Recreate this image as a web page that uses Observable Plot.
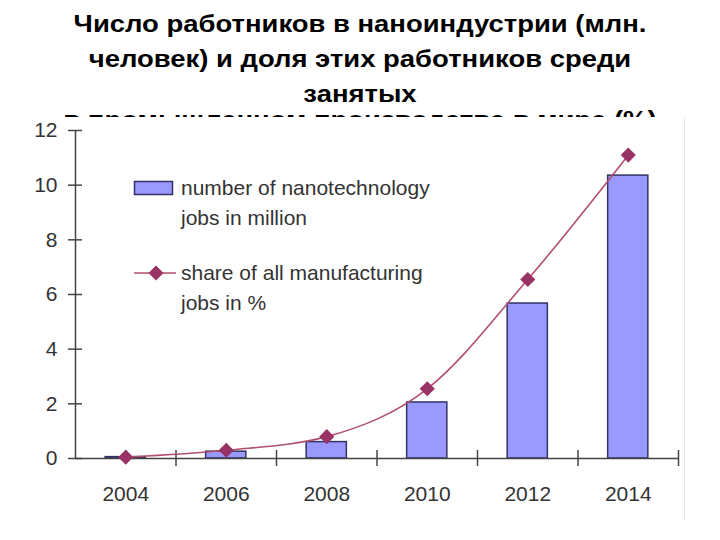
<!DOCTYPE html>
<html><head><meta charset="utf-8">
<script src="https://cdn.jsdelivr.net/npm/d3@7"></script>
<script src="https://cdn.jsdelivr.net/npm/@observablehq/plot@0.6"></script>
<style>
html,body{margin:0;padding:0;background:#fff;width:720px;height:540px;overflow:hidden;position:relative;font-family:"Liberation Sans",Arial,sans-serif;}
.title{position:absolute;left:0;width:720px;text-align:center;font-weight:bold;font-size:24.5px;line-height:22px;color:#000;transform:scaleX(1.12);transform-origin:360px 0;white-space:nowrap;}
#chart{position:absolute;left:0;top:117px;width:684px;height:403px;background:#fff;border-right:1px solid #e4e4e4;}
#legend{position:absolute;left:0;top:0;width:684px;height:403px;pointer-events:none;font-size:21px;color:#333;}
.lt{position:absolute;left:181px;line-height:30px;white-space:nowrap;}
</style></head>
<body>
<div class="title" style="top:12.5px">Число работников в наноиндустрии (млн.</div>
<div class="title" style="top:47.5px">человек) и доля этих работников среди</div>
<div class="title" style="top:82.5px">занятых</div>
<div class="title" style="top:109px">в промышленном производстве в мире (%)</div>
<div id="chart"></div>
<script>
const years = [2004, 2006, 2008, 2010, 2012, 2014];
const jobs = [0.05, 0.25, 0.6, 2.05, 5.67, 10.35];
const share = [0.05, 0.3, 0.8, 2.55, 6.55, 11.1];
const yTicks = [0, 2, 4, 6, 8, 10, 12];
const boundaries = [2005, 2007, 2009, 2011, 2013, 2015];
const seriesNames = ["number of nanotechnology", "jobs in million", "share of all manufacturing", "jobs in %"];

const data = years.map((y, i) => ({year: y, jobs: jobs[i], share: share[i]}));
const axisColor = "#444";
const barFill = "#9999ff", barStroke = "#333366";
const lineColor = "#b0506e", dotColor = "#993366";

const plot = Plot.plot({
  width: 684, height: 403,
  marginLeft: 75, marginRight: 6, marginTop: 13, marginBottom: 62,
  style: {fontSize: "21px", fontFamily: "'Liberation Sans', Arial, sans-serif", color: "#333", background: "transparent"},
  x: {type: "linear", domain: [2003, 2015], axis: null},
  y: {domain: [0, 12], axis: null},
  marks: [
    Plot.rectY(data, {x1: d => d.year - 0.4, x2: d => d.year + 0.4, y: "jobs", fill: barFill, stroke: barStroke, strokeWidth: 1.5}),
    Plot.ruleY([0], {stroke: axisColor, strokeWidth: 1.5}),
    Plot.ruleX([2003], {y1: 0, y2: 12, stroke: axisColor, strokeWidth: 1.5}),
    Plot.ruleY(yTicks, {y: d => d, x1: 2003, x2: 2003, insetLeft: -7, insetRight: -7, stroke: axisColor, strokeWidth: 1.5}),
    Plot.ruleX(boundaries, {x: d => d, y1: 0, y2: 0, insetTop: -8, insetBottom: -8, stroke: axisColor, strokeWidth: 1.5}),
    Plot.axisY({ticks: yTicks, tickSize: 0, tickPadding: 18, fontSize: 21, fill: "#333", label: null, tickFormat: d => String(d)}),
    Plot.axisX({ticks: years, tickSize: 0, tickPadding: 28, fontSize: 21, fill: "#333", label: null, tickFormat: d => String(d)}),
    Plot.line(data, {x: "year", y: "share", stroke: lineColor, strokeWidth: 1.6, curve: "monotone-x"}),
    Plot.dot(data, {x: "year", y: "share", symbol: "diamond2", r: 6.8, fill: dotColor, stroke: "none"})
  ]
});
const chart = document.getElementById("chart");
chart.appendChild(plot);

const legend = document.createElement("div");
legend.id = "legend";
legend.innerHTML = `
<svg width="684" height="403" style="position:absolute;left:0;top:0">
  <rect x="134.5" y="64.5" width="38" height="13" fill="${barFill}" stroke="${barStroke}" stroke-width="1.5"></rect>
  <line x1="134" x2="176" y1="156" y2="156" stroke="${lineColor}" stroke-width="1.6"></line>
  <path d="M156,148.5L163.5,156L156,163.5L148.5,156Z" fill="${dotColor}"></path>
</svg>
<div class="lt" style="top:56px">${seriesNames[0]}</div>
<div class="lt" style="top:86px">${seriesNames[1]}</div>
<div class="lt" style="top:141px">${seriesNames[2]}</div>
<div class="lt" style="top:171px">${seriesNames[3]}</div>`;
chart.appendChild(legend);
</script>
</body></html>
